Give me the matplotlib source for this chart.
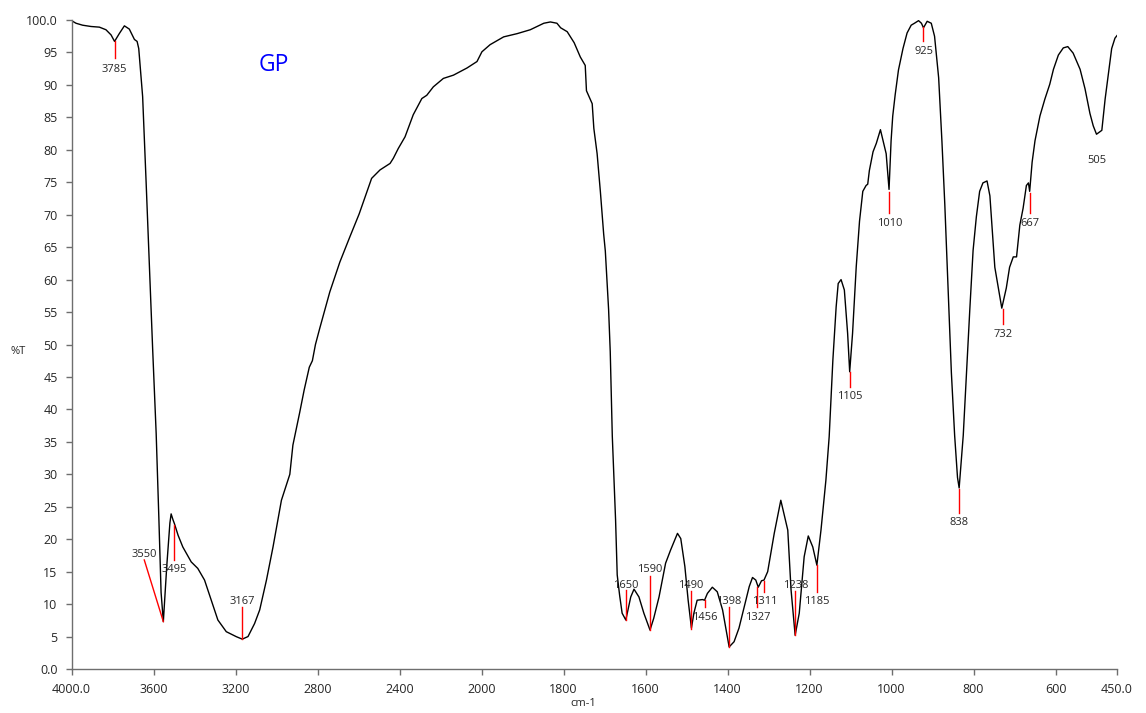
import numpy as np
import matplotlib.pyplot as plt

plt.rcParams['font.family'] = ['Open Sans', 'DejaVu Sans']

# Spectrum (cm-1, %T)
wavenumber = [
    4000, 3978, 3946, 3905, 3864, 3832, 3807, 3790, 3767, 3742, 3718, 3693, 3680, 3672,
    3653, 3636, 3620, 3604, 3587, 3574, 3563, 3552, 3535, 3520, 3514, 3505, 3498, 3480,
    3457, 3416, 3384, 3351, 3318, 3286, 3245, 3196, 3167, 3139, 3107, 3082, 3049, 3017,
    2976, 2944, 2935, 2920, 2887, 2865, 2840, 2825, 2810, 2789, 2740, 2691, 2642, 2597,
    2536, 2495, 2446, 2430, 2406, 2373, 2333, 2291, 2267, 2235, 2186, 2137, 2071, 2022,
    1999, 1979, 1946, 1913, 1881, 1848, 1832, 1816, 1807, 1791, 1774, 1759, 1747, 1744,
    1730, 1726, 1718, 1710, 1702, 1698, 1690, 1686, 1681, 1677, 1673, 1669, 1663, 1657,
    1648, 1636, 1628, 1616, 1604, 1589, 1580, 1567, 1551, 1539, 1522, 1514, 1504, 1496,
    1488, 1482, 1474, 1461, 1456, 1449, 1437, 1425, 1412, 1402, 1396, 1384, 1372, 1359,
    1347, 1339, 1331, 1325, 1317, 1311, 1302, 1286, 1270, 1253, 1245, 1235, 1225, 1213,
    1203, 1192, 1182, 1172, 1160, 1152, 1143, 1135, 1130, 1123, 1115, 1107, 1102, 1095,
    1086, 1078, 1070, 1062, 1058, 1054, 1045, 1037, 1027, 1013, 1006, 1001, 997, 991,
    983, 972, 962, 952, 944, 934, 927, 922, 913, 903, 895, 885, 877, 870, 862, 854, 846,
    839, 835, 825, 817, 809, 801, 793, 785, 777, 767, 760, 748, 731, 720, 712, 703, 695,
    687, 679, 671, 666, 663, 657, 650, 638, 626, 614, 605, 593, 581, 570, 557, 540, 528,
    516, 508, 500, 487, 479, 471, 463, 455, 450]
transmittance = [
    99.9, 99.5, 99.2, 99.0, 98.9, 98.5, 97.7, 96.7, 97.9, 99.1, 98.6, 97.0, 96.7, 95.6,
    88.2, 75.0, 62.1, 49.2, 36.3, 23.4, 11.8, 7.3, 16.0, 22.5, 23.9, 23.0, 22.4, 20.6,
    18.8, 16.5, 15.5, 13.7, 10.6, 7.55, 5.75, 4.98, 4.6, 5.0, 7.0, 9.1, 13.7, 18.8,
    26.0, 29.1, 30.0, 34.5, 39.5, 43.0, 46.5, 47.5, 50.0, 52.5, 58.1, 62.7, 66.6, 70.1,
    75.6, 76.9, 77.9, 78.7, 80.2, 82.0, 85.4, 87.9, 88.4, 89.7, 91.0, 91.5, 92.6, 93.6,
    95.1, 96.2, 97.4, 97.9, 98.5, 99.5, 99.7, 99.5, 98.8, 98.2, 96.5, 94.3, 93.0, 89.1,
    87.1, 83.3, 79.4, 73.5, 67.0, 64.4, 55.4, 48.9, 35.9, 29.4, 23.0, 14.5, 11.3, 8.6,
    7.55, 11.1, 12.3, 11.1, 8.6, 6.0, 7.8, 11.1, 16.3, 18.3, 20.9, 20.1, 15.8, 10.6,
    6.3, 8.6, 10.6, 10.7, 10.6, 11.65, 12.6, 11.9, 9.1, 5.5, 3.4, 4.2, 6.3, 9.6,
    12.7, 14.1, 13.7, 12.6, 13.6, 13.7, 15.0, 20.9, 26.0, 21.4, 12.2, 5.2, 8.6, 17.3,
    20.5, 18.8, 16.0, 21.4, 29.1, 35.8, 47.6, 55.8, 59.4, 60.0, 58.4, 51.7, 45.8, 51.7,
    62.0, 69.0, 73.6, 74.5, 74.7, 76.8, 79.7, 81.0, 83.1, 79.4, 73.9, 81.4, 85.2, 88.5,
    92.3, 95.6, 98.0, 99.2, 99.5, 99.9, 99.5, 98.8, 99.8, 99.5, 97.5, 91.1, 81.3, 71.6,
    58.7, 45.7, 36.0, 29.5, 27.9, 36.0, 45.7, 55.4, 64.5, 69.7, 73.6, 74.9, 75.2, 72.9,
    61.9, 55.6, 58.7, 61.9, 63.5, 63.5, 68.4, 71.0, 74.5, 74.9, 73.6, 78.1, 81.4, 85.2,
    87.8, 90.1, 92.4, 94.6, 95.7, 95.9, 94.9, 92.4, 89.4, 85.6, 83.7, 82.4, 83.0, 87.8,
    91.7, 95.6, 97.2, 97.6]

# peak marks: label, line (x0, y0, x1, y1), text position (x, y)
peaks = [
    ('3785', (3790, 96.7, 3790, 94.1), (3790, 92.4)),
    ('3550', (3645, 16.8, 3552, 7.3), (3645, 17.7)),
    ('3495', (3498, 22.2, 3498, 16.8), (3498, 15.4)),
    ('3167', (3168, 9.6, 3168, 4.6), (3168, 10.4)),
    ('1650', (1648, 12.1, 1648, 7.55), (1648, 12.8)),
    ('1590', (1590, 14.3, 1590, 6.0), (1590, 15.3)),
    ('1490', (1489, 12.0, 1489, 6.2), (1489, 12.8)),
    ('1456', (1455, 10.6, 1455, 9.5), (1455, 7.9)),
    ('1398', (1397, 9.5, 1397, 3.4), (1397, 10.4)),
    ('1327', (1327, 12.7, 1327, 9.5), (1325, 7.9)),
    ('1311', (1310, 13.6, 1310, 11.9), (1309, 10.4)),
    ('1238', (1236, 12.0, 1236, 5.2), (1234, 12.8)),
    ('1185', (1182, 16.0, 1182, 11.9), (1182, 10.4)),
    ('1105', (1102, 45.8, 1102, 43.5), (1102, 42.0)),
    ('1010', (1007, 73.5, 1007, 70.2), (1005, 68.6)),
    ('925', (922, 98.9, 922, 96.8), (921, 95.2)),
    ('838', (836, 27.8, 836, 24.0), (836, 22.5)),
    ('732', (729, 55.4, 729, 53.2), (727, 51.6)),
    ('667', (663, 73.3, 663, 70.2), (663, 68.6)),
    ('505', None, (500, 78.3)),
]

x_ticks = [4000, 3600, 3200, 2800, 2400, 2000, 1800, 1600, 1400, 1200, 1000, 800, 600, 450]
x_tick_labels = ['4000.0', '3600', '3200', '2800', '2400', '2000', '1800', '1600',
                 '1400', '1200', '1000', '800', '600', '450.0']
y_ticks = list(range(0, 101, 5))
y_tick_labels = ['0.0'] + [str(v) for v in y_ticks[1:-1]] + ['100.0']


# x axis is expanded 2x below 2000 cm-1
def fwd(w):
    w = np.asarray(w, dtype=float)
    return np.where(w >= 2000, w, 2 * w - 2000)


def inv(x):
    x = np.asarray(x, dtype=float)
    return np.where(x >= 2000, x, (x + 2000) / 2)


fig = plt.figure(figsize=(11.46, 7.13), dpi=100)
ax = fig.add_axes([71.5 / 1146, 44 / 713, 1045.5 / 1146, 649 / 713])
ax.set_xscale('function', functions=(fwd, inv))

ax.plot(wavenumber, transmittance, color='black', lw=1.0)

for label, line, pos in peaks:
    if line is not None:
        ax.plot([line[0], line[2]], [line[1], line[3]], color='red', lw=1.0)
    ax.text(pos[0], pos[1], label, ha='center', va='center', fontsize=8, color='#262626')

ax.text(3014, 93.0, 'GP', color='#0000ff', fontsize=16.5, ha='center', va='center')

ax.set_xlim(4000, 450)
ax.set_ylim(0, 100)
ax.set_xticks(x_ticks)
ax.set_xticklabels(x_tick_labels)
ax.set_yticks(y_ticks)
ax.set_yticklabels(y_tick_labels)
ax.minorticks_off()

for s in ['top', 'right']:
    ax.spines[s].set_visible(False)
for s in ['left', 'bottom']:
    ax.spines[s].set_color('#6e6e6e')
    ax.spines[s].set_linewidth(1.0)
ax.tick_params(axis='both', length=4, width=1, color='#6e6e6e', labelsize=9,
               labelcolor='#262626', pad=6)

fig.text(18 / 1146, 1 - 352 / 713, '%T', fontsize=8, ha='center', va='center', color='#262626')
fig.text(583 / 1146, 1 - 703 / 713, 'cm-1', fontsize=8, ha='center', va='center', color='#262626')

fig.savefig('out.png', dpi=100)
